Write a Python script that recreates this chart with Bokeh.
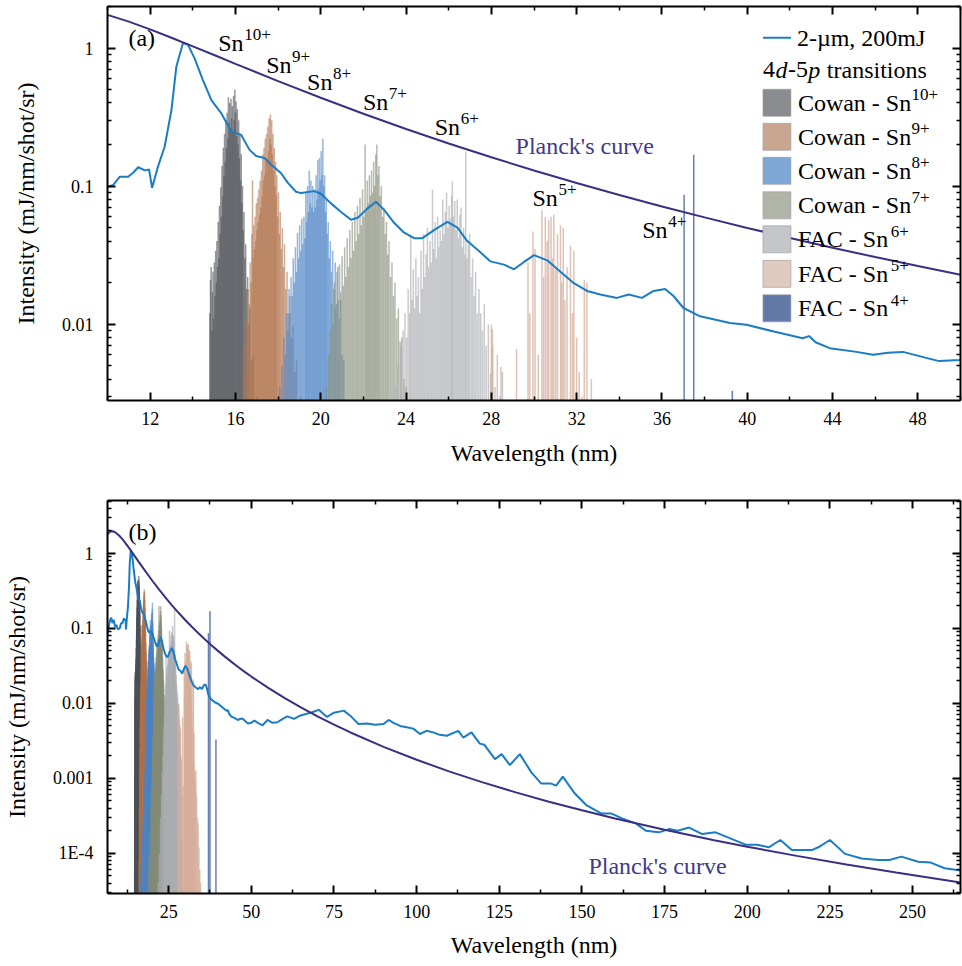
from bokeh.plotting import figure
from bokeh.models import (Range1d, FixedTicker, LinearAxis, LogAxis, Label,
                          BoxAnnotation, ColumnDataSource)
from bokeh.layouts import column
from bokeh.embed import file_html
from bokeh.resources import INLINE

# ---------------- data ----------------
# measured spectrum: (wavelength nm, intensity mJ/nm/shot/sr)
SPECTRUM = [
    (6.5, 0.082), (6.8, 0.10), (7.2, 0.125), (7.6, 0.14), (8.0, 0.118), (8.4, 0.13),
    (8.8, 0.105), (9.2, 0.112), (9.6, 0.098), (10.03, 0.099), (10.27, 0.102),
    (10.58, 0.117), (10.97, 0.117), (11.2, 0.125), (11.44, 0.137), (11.75, 0.130),
    (11.95, 0.132), (12.09, 0.097), (12.37, 0.139), (12.68, 0.193), (13.0, 0.357),
    (13.23, 0.736), (13.54, 1.087), (13.77, 1.06), (14.08, 0.846), (14.47, 0.589),
    (14.87, 0.42), (15.33, 0.338), (15.80, 0.249), (16.27, 0.235), (16.66, 0.183),
    (16.97, 0.165), (17.36, 0.160), (17.68, 0.143), (18.14, 0.124), (18.45, 0.106),
    (18.84, 0.091), (19.08, 0.089), (19.70, 0.092), (20.01, 0.088), (20.48, 0.075),
    (20.95, 0.065), (21.42, 0.057), (21.73, 0.059), (22.2, 0.069), (22.59, 0.077),
    (22.98, 0.067), (23.45, 0.054), (23.91, 0.046), (24.38, 0.042), (24.77, 0.042),
    (25.31, 0.048), (25.94, 0.055), (26.41, 0.050), (26.87, 0.040), (27.5, 0.033),
    (27.96, 0.0285), (28.59, 0.027), (29.06, 0.025), (29.5, 0.028), (30.0, 0.0316),
    (30.62, 0.029), (31.24, 0.024), (31.87, 0.0198), (32.49, 0.0174), (33.11, 0.0164),
    (33.89, 0.0155), (34.44, 0.0164), (35.06, 0.0155), (35.61, 0.0174), (36.15, 0.018),
    (36.54, 0.016), (37.01, 0.0131), (37.79, 0.0114), (39.19, 0.0102), (39.97, 0.0099),
    (41.3, 0.0088), (42.6, 0.0079), (42.9, 0.0082), (43.2, 0.0074), (43.87, 0.0067),
    (45.12, 0.0063), (45.9, 0.006), (46.6, 0.0062), (47.3, 0.0063), (48.39, 0.0057),
    (49.0, 0.0054), (49.95, 0.0055), (50.9, 0.0059), (52.0, 0.0055), (53.4, 0.0051),
    (54.9, 0.006), (56.4, 0.0055), (57.9, 0.0056), (59.5, 0.0062), (60.9, 0.0067),
    (62.9, 0.0062), (64.9, 0.0069), (66.5, 0.0072), (68.4, 0.0076), (70.4, 0.0082),
    (72.9, 0.0066), (75.0, 0.0075), (78.0, 0.0080), (80.0, 0.0068), (82.4, 0.0053),
    (85.0, 0.0054), (87.5, 0.0052), (90.0, 0.0053), (91.5, 0.006), (93.0, 0.0055),
    (95.0, 0.005), (97.0, 0.0048), (99.0, 0.0046), (101.0, 0.0039), (103.0, 0.0043),
    (105.0, 0.0041), (107.0, 0.0038), (109.1, 0.0037), (112.6, 0.0043), (114.1, 0.0035),
    (116.6, 0.0041), (119.1, 0.0029), (120.5, 0.0028), (123.7, 0.0018), (125.7, 0.0021),
    (128.2, 0.0015), (131.2, 0.0021), (134.7, 0.0012), (137.7, 0.00085), (140.7, 0.00085),
    (142.2, 0.0008), (144.2, 0.00105), (147.8, 0.00063), (151.3, 0.00044), (155.8, 0.00034),
    (158.8, 0.00034), (162.3, 0.00029), (166.3, 0.00025), (169.3, 0.0002), (173.3, 0.00019),
    (176.3, 0.00021), (179.0, 0.0002), (182.4, 0.00022), (186.4, 0.00018), (190.4, 0.00019),
    (194.5, 0.00016), (199.5, 0.00013), (203.0, 0.00013), (206.5, 0.00012), (210.0, 0.00015),
    (213.5, 0.00011), (219.5, 0.00011), (221.5, 0.00012), (225.0, 0.00015), (229.6, 0.000098),
    (234.6, 0.000085), (239.6, 0.000081), (243.0, 0.000081), (246.6, 0.00009),
    (251.7, 0.000077), (255.5, 0.000075), (259.7, 0.000063), (264.5, 0.000059),
]

# Planck's curve
PLANCK = [
    (6.5, 1.80), (7.0, 1.915), (7.5, 1.968), (8.0, 1.977), (8.5, 1.950), (9.0, 1.896),
    (10, 1.74), (11, 1.553), (12, 1.365), (13, 1.188), (14, 1.029), (15, 0.890),
    (16, 0.769), (18, 0.5765), (20, 0.4364), (22, 0.3343), (24, 0.2593), (26, 0.2035),
    (28, 0.1617), (30, 0.1298), (32, 0.1053), (34, 0.0862), (36, 0.07125), (38, 0.05935),
    (40, 0.0498), (42, 0.04208), (44, 0.0358), (46, 0.03063), (48, 0.02636), (50, 0.0228),
    (55, 0.01621), (60, 0.01183), (65, 0.008827), (70, 0.006718), (75, 0.005203),
    (80, 0.00409), (90, 0.002629), (100, 0.001766), (110, 0.001229), (120, 0.000881),
    (130, 0.000648), (140, 0.0004874), (150, 0.0003735), (160, 0.0002909),
    (175, 0.0002055), (190, 0.0001492), (200, 0.0001222), (215, 0.00009214),
    (230, 0.00007079), (245, 0.00005527), (264.5, 0.0000408),
]

# 4d-5p transition lines (wavelength nm, intensity)
COWAN_SN10 = [
    (14.71, 0.00006), (14.76, 0.0011), (14.80, 0.012), (14.83, 0.021), (14.86, 0.026),
    (14.89, 0.009), (14.92, 0.017), (14.95, 0.024), (14.98, 0.011), (15.01, 0.028),
    (15.04, 0.016), (15.07, 0.034), (15.10, 0.020), (15.13, 0.040), (15.16, 0.026),
    (15.19, 0.055), (15.22, 0.030), (15.25, 0.072), (15.28, 0.045), (15.31, 0.098),
    (15.34, 0.060), (15.37, 0.14), (15.40, 0.085), (15.43, 0.19), (15.46, 0.12),
    (15.49, 0.24), (15.52, 0.15), (15.55, 0.30), (15.58, 0.19), (15.61, 0.34),
    (15.64, 0.22), (15.67, 0.44), (15.70, 0.29), (15.73, 0.40), (15.76, 0.26),
    (15.79, 0.43), (15.82, 0.31), (15.85, 0.38), (15.88, 0.25), (15.91, 0.45),
    (15.94, 0.30), (15.97, 0.50), (16.00, 0.34), (16.03, 0.41), (16.06, 0.23),
    (16.09, 0.36), (16.12, 0.20), (16.15, 0.30), (16.18, 0.16), (16.21, 0.24),
    (16.24, 0.11), (16.27, 0.17), (16.30, 0.075), (16.33, 0.10), (16.36, 0.048),
    (16.40, 0.065), (16.44, 0.030), (16.48, 0.038), (16.52, 0.018), (16.57, 0.022),
    (16.62, 0.010), (16.68, 0.013), (16.75, 0.0055), (16.83, 0.0060), (16.92, 0.0028),
    (17.02, 0.0030), (17.14, 0.0011), (17.27, 0.0005), (17.40, 0.00012),
]
COWAN_SN9 = [
    (16.08, 0.00008), (16.16, 0.0004), (16.24, 0.0012), (16.31, 0.0025), (16.38, 0.0045),
    (16.44, 0.007), (16.50, 0.011), (16.55, 0.009), (16.60, 0.018), (16.65, 0.014),
    (16.69, 0.028), (16.73, 0.020), (16.77, 0.045), (16.80, 0.11), (16.83, 0.030),
    (16.86, 0.052), (16.89, 0.035), (16.92, 0.060), (16.95, 0.040), (16.98, 0.075),
    (17.01, 0.048), (17.04, 0.082), (17.07, 0.055), (17.10, 0.095), (17.13, 0.062),
    (17.16, 0.11), (17.19, 0.07), (17.22, 0.13), (17.25, 0.085), (17.28, 0.17),
    (17.31, 0.11), (17.34, 0.19), (17.37, 0.12), (17.40, 0.22), (17.43, 0.15),
    (17.46, 0.24), (17.49, 0.16), (17.52, 0.27), (17.55, 0.18), (17.58, 0.31),
    (17.61, 0.22), (17.64, 0.33), (17.67, 0.20), (17.70, 0.30), (17.73, 0.17),
    (17.76, 0.24), (17.79, 0.13), (17.82, 0.19), (17.85, 0.10), (17.88, 0.15),
    (17.91, 0.085), (17.94, 0.12), (17.98, 0.06), (18.02, 0.09), (18.06, 0.045),
    (18.10, 0.065), (18.15, 0.035), (18.20, 0.05), (18.25, 0.026), (18.30, 0.038),
    (18.36, 0.018), (18.42, 0.024), (18.48, 0.012), (18.55, 0.016), (18.62, 0.008),
    (18.70, 0.0096), (18.78, 0.0045), (18.86, 0.0055), (18.95, 0.0025), (19.05, 0.0030),
    (19.15, 0.0012), (19.27, 0.0004), (19.38, 0.0001),
]
COWAN_SN8 = [
    (16.52, 0.00004), (16.66, 0.00007), (16.80, 0.00012), (16.95, 0.0002), (17.10, 0.00015),
    (17.25, 0.0003), (17.40, 0.0005), (17.55, 0.0004), (17.70, 0.0008), (17.85, 0.0012),
    (17.97, 0.002), (18.08, 0.0035), (18.18, 0.005), (18.27, 0.008), (18.34, 0.006),
    (18.40, 0.012), (18.46, 0.009), (18.51, 0.018), (18.56, 0.012), (18.61, 0.022),
    (18.66, 0.016), (18.71, 0.030), (18.76, 0.020), (18.81, 0.036), (18.86, 0.024),
    (18.91, 0.046), (18.96, 0.030), (19.01, 0.052), (19.06, 0.034), (19.11, 0.058),
    (19.16, 0.038), (19.21, 0.060), (19.26, 0.042), (19.30, 0.090), (19.34, 0.055),
    (19.38, 0.10), (19.42, 0.065), (19.46, 0.13), (19.50, 0.075), (19.54, 0.11),
    (19.58, 0.07), (19.62, 0.10), (19.66, 0.065), (19.70, 0.095), (19.74, 0.07),
    (19.78, 0.12), (19.82, 0.08), (19.86, 0.155), (19.90, 0.095), (19.94, 0.16),
    (19.98, 0.11), (20.02, 0.18), (20.06, 0.12), (20.10, 0.22), (20.14, 0.10),
    (20.18, 0.12), (20.22, 0.065), (20.26, 0.08), (20.30, 0.045), (20.35, 0.055),
    (20.40, 0.030), (20.45, 0.040), (20.50, 0.024), (20.56, 0.034), (20.62, 0.018),
    (20.68, 0.028), (20.74, 0.014), (20.80, 0.026), (20.86, 0.011), (20.93, 0.015),
    (21.00, 0.006), (21.08, 0.0055), (21.17, 0.0025), (21.28, 0.0012), (21.40, 0.0004),
]
COWAN_SN7 = [
    (18.82, 0.00006), (19.05, 0.0001), (19.30, 0.0002), (19.55, 0.0004), (19.75, 0.0007),
    (19.95, 0.0012), (20.12, 0.002), (20.25, 0.0035), (20.36, 0.006), (20.45, 0.009),
    (20.52, 0.014), (20.58, 0.010), (20.64, 0.020), (20.70, 0.013), (20.76, 0.024),
    (20.82, 0.015), (20.88, 0.027), (20.94, 0.017), (21.00, 0.031), (21.06, 0.019),
    (21.12, 0.036), (21.18, 0.022), (21.24, 0.042), (21.30, 0.026), (21.36, 0.048),
    (21.42, 0.030), (21.48, 0.055), (21.54, 0.034), (21.60, 0.065), (21.66, 0.040),
    (21.72, 0.072), (21.78, 0.045), (21.84, 0.082), (21.90, 0.052), (21.96, 0.095),
    (22.02, 0.060), (22.08, 0.20), (22.13, 0.07), (22.18, 0.11), (22.23, 0.075),
    (22.28, 0.12), (22.33, 0.085), (22.38, 0.13), (22.43, 0.09), (22.48, 0.15),
    (22.53, 0.10), (22.58, 0.17), (22.63, 0.20), (22.68, 0.12), (22.73, 0.14),
    (22.78, 0.085), (22.84, 0.10), (22.90, 0.06), (22.96, 0.07), (23.02, 0.045),
    (23.08, 0.055), (23.14, 0.032), (23.20, 0.040), (23.27, 0.022), (23.34, 0.028),
    (23.41, 0.016), (23.48, 0.020), (23.56, 0.011), (23.64, 0.013), (23.72, 0.0075),
    (23.80, 0.008), (23.90, 0.004), (24.00, 0.0035), (24.15, 0.0018), (24.35, 0.0009),
    (24.60, 0.0004), (24.90, 0.00015), (25.25, 0.00005),
]
FAC_SN6 = [
    (21.85, 0.00004), (22.20, 0.0001), (22.55, 0.0003), (22.85, 0.0006), (23.10, 0.0012),
    (23.30, 0.002), (23.48, 0.0035), (23.62, 0.005), (23.75, 0.007), (23.86, 0.009),
    (23.95, 0.012), (24.03, 0.008), (24.10, 0.018), (24.17, 0.012), (24.22, 0.043),
    (24.28, 0.015), (24.34, 0.025), (24.40, 0.013), (24.46, 0.030), (24.52, 0.016),
    (24.58, 0.022), (24.64, 0.012), (24.70, 0.034), (24.76, 0.018), (24.82, 0.045),
    (24.88, 0.022), (24.94, 0.032), (25.00, 0.05), (25.06, 0.026), (25.12, 0.040),
    (25.18, 0.028), (25.24, 0.094), (25.30, 0.035), (25.36, 0.055), (25.42, 0.030),
    (25.48, 0.060), (25.54, 0.036), (25.60, 0.048), (25.66, 0.040), (25.72, 0.080),
    (25.78, 0.045), (25.84, 0.065), (25.90, 0.090), (25.96, 0.050), (26.02, 0.072),
    (26.08, 0.058), (26.14, 0.085), (26.17, 0.108), (26.22, 0.060), (26.28, 0.078),
    (26.34, 0.048), (26.40, 0.080), (26.46, 0.042), (26.52, 0.062), (26.58, 0.070),
    (26.64, 0.036), (26.70, 0.050), (26.76, 0.032), (26.80, 0.178), (26.86, 0.030),
    (26.92, 0.038), (26.98, 0.045), (27.05, 0.022), (27.12, 0.030), (27.19, 0.016),
    (27.26, 0.024), (27.34, 0.012), (27.42, 0.018), (27.50, 0.012), (27.58, 0.009),
    (27.67, 0.014), (27.76, 0.007), (27.86, 0.010), (27.96, 0.0044), (28.06, 0.007),
    (28.17, 0.0035), (28.28, 0.006), (28.40, 0.003), (28.52, 0.0045), (28.65, 0.002),
    (28.80, 0.0018), (28.97, 0.0006), (29.15, 0.00015), (29.30, 0.00004),
]
FAC_SN5 = [
    (28.00, 0.0099), (28.05, 0.0092), (28.45, 0.0049), (29.18, 0.0066), (29.45, 0.0008),
    (29.72, 0.028), (29.80, 0.012), (29.95, 0.047), (30.05, 0.035), (30.20, 0.006),
    (30.37, 0.067), (30.45, 0.022), (30.53, 0.060), (30.62, 0.040), (30.69, 0.057),
    (30.80, 0.060), (30.86, 0.030), (30.93, 0.062), (31.02, 0.025), (31.10, 0.045),
    (31.24, 0.052), (31.30, 0.020), (31.37, 0.050), (31.45, 0.015), (31.55, 0.026),
    (31.71, 0.037), (31.80, 0.012), (31.87, 0.034), (32.00, 0.008), (32.12, 0.0045),
    (32.25, 0.003), (32.36, 0.021), (32.48, 0.020), (32.58, 0.0015), (32.69, 0.004),
    (32.85, 0.0012), (33.05, 0.0009), (33.25, 0.0013), (33.45, 0.0006), (33.70, 0.0003),
    (33.90, 0.00025), (34.15, 0.00012), (34.40, 0.00006), (34.65, 0.00004),
]
FAC_SN4 = [(37.04, 0.0865), (37.49, 0.169), (39.30, 0.0033)]

ION_SETS = [
    ("Cowan - Sn", "10+", COWAN_SN10, "#4f5257", 0.6, "#8a8c90"),
    ("Cowan - Sn", "9+", COWAN_SN9, "#b0734d", 0.6, "#c9a691"),
    ("Cowan - Sn", "8+", COWAN_SN8, "#4c84c6", 0.6, "#7fa7d6"),
    ("Cowan - Sn", "7+", COWAN_SN7, "#858c77", 0.6, "#b1b5a9"),
    ("FAC - Sn", "6+", FAC_SN6, "#acaeb2", 0.65, "#c5c6ca"),
    ("FAC - Sn", "5+", FAC_SN5, "#d6ad9b", 0.75, "#e0c9bf"),
    ("FAC - Sn", "4+", FAC_SN4, "#4d67a2", 0.85, "#6379a7"),
]

TOP_XTICKS = [12, 16, 20, 24, 28, 32, 36, 40, 44, 48]
TOP_XMINOR = [10, 14, 18, 22, 26, 30, 34, 38, 42, 46, 50]
BOT_XTICKS = [25, 50, 75, 100, 125, 150, 175, 200, 225, 250]
BOT_XMINOR = [12.5, 37.5, 62.5, 87.5, 112.5, 137.5, 162.5, 187.5, 212.5, 237.5, 262.5]
TOP_YTICKS = [0.01, 0.1, 1]
TOP_YLABELS = {0.01: "0.01", 0.1: "0.1", 1: "1"}
BOT_YTICKS = [0.0001, 0.001, 0.01, 0.1, 1]
BOT_YLABELS = {0.0001: "1E-4", 0.001: "0.001", 0.01: "0.01", 0.1: "0.1", 1: "1"}

FONT = "Liberation Serif"
BLUE = "#1a7cc4"
PLANCK_COLOR = "#3a2f82"
PLANCK_TEXT = "#3f3a8c"


def minor_log(lo, hi):
    out = []
    for e in range(-6, 2):
        for m in range(2, 10):
            v = m * 10.0 ** e
            if lo <= v <= hi:
                out.append(v)
    return out


def style_axis(ax, labels=True, tick_standoff=12, label_standoff=12):
    ax.axis_line_width = 2
    ax.axis_line_color = "black"
    ax.major_tick_in = 8
    ax.major_tick_out = 0
    ax.minor_tick_in = 4
    ax.minor_tick_out = 0
    ax.major_tick_line_width = 2
    ax.minor_tick_line_width = 1.5
    ax.major_tick_line_color = "black"
    ax.minor_tick_line_color = "black"
    ax.major_label_text_font = FONT
    ax.major_label_text_color = "black"
    ax.axis_label_text_font = FONT
    ax.axis_label_text_font_style = "normal"
    ax.axis_label_text_font_size = "24px"
    ax.axis_label_text_color = "black"
    if labels:
        ax.major_label_text_font_size = "18px"
        ax.major_label_standoff = tick_standoff
        ax.axis_label_standoff = label_standoff
    else:
        ax.major_label_text_font_size = "1px"
        ax.major_label_text_alpha = 0.0
        ax.major_label_standoff = 0


def build(xr, yr, xt, xmt, yt, ylab, height, top, bottom, xstand, xlstand):
    p = figure(width=962, height=height, x_range=Range1d(*xr), y_range=Range1d(*yr),
               y_axis_type="log", output_backend="svg", toolbar_location=None,
               min_border_left=106, min_border_right=2, min_border_top=top,
               min_border_bottom=bottom)
    p.xgrid.visible = False
    p.ygrid.visible = False
    p.outline_line_color = None
    p.background_fill_color = "white"
    p.border_fill_color = "white"
    xtick = FixedTicker(ticks=xt, minor_ticks=xmt)
    ytick = FixedTicker(ticks=yt, minor_ticks=minor_log(yr[0], yr[1]))
    p.xaxis.ticker = xtick
    p.yaxis.ticker = ytick
    p.yaxis.major_label_overrides = ylab
    p.xaxis.axis_label = "Wavelength (nm)"
    p.yaxis.axis_label = "Intensity (mJ/nm/shot/sr)"
    for ax in p.xaxis:
        style_axis(ax, True, xstand, xlstand)
    for ax in p.yaxis:
        style_axis(ax, True, 14, 20)
    ta = LinearAxis(ticker=xtick)
    style_axis(ta, False)
    p.add_layout(ta, "above")
    ra = LogAxis(ticker=ytick)
    style_axis(ra, False)
    p.add_layout(ra, "right")

    for name, sup, lines, color, alpha, _ in ION_SETS:
        src = ColumnDataSource(dict(x=[a for a, b in lines], y=[b for a, b in lines]))
        p.segment(x0="x", y0=1e-7, x1="x", y1="y", source=src, line_color=color,
                  line_alpha=alpha, line_width=1.5)
    p.line([a for a, b in SPECTRUM], [b for a, b in SPECTRUM], line_color=BLUE, line_width=2)
    p.line([a for a, b in PLANCK], [b for a, b in PLANCK], line_color=PLANCK_COLOR,
           line_width=2)
    return p


# reference-pixel -> data helpers for placing texts
def tx(px):
    return 10 + (px - 106) / 21.375


def ty(py):
    return 10 ** ((48.3 - py) / 138.0)


def bx(px):
    return 6.5 + (px - 106) / 3.307


def by(py):
    return 10 ** ((553.3 - py) / 75.0)


def text(p, x, y, s, size=24, color="black", style="normal", align="left"):
    p.add_layout(Label(x=x, y=y, text=s, text_font=FONT, text_font_size=f"{size}px",
                       text_color=color, text_font_style=style, text_align=align,
                       text_baseline="middle"))


def sn(p, fx, fy, px, py, sup, base="Sn", adv=26):
    text(p, fx(px), fy(py), base)
    text(p, fx(px + adv), fy(py - 8), sup, size=17)


# ---------------- top panel ----------------
p1 = build((10, 50), (0.0028, 2.0), TOP_XTICKS, TOP_XMINOR, TOP_YTICKS, TOP_YLABELS,
           488, 6, 88, 11, 12)
text(p1, tx(127), ty(38), "(a)")
for (px, py, sup) in [(217, 43, "10+"), (265, 65, "9+"), (306, 82, "8+"),
                      (362, 102, "7+"), (434, 127, "6+"), (532, 198, "5+"),
                      (642, 230, "4+")]:
    sn(p1, tx, ty, px, py, sup)
text(p1, tx(515), ty(146), "Planck's curve", color=PLANCK_TEXT)

# legend (drawn by hand so that superscripts / italics are kept)
p1.segment(x0=[tx(763)], y0=[ty(38)], x1=[tx(791)], y1=[ty(38)], line_color=BLUE,
           line_width=2)
text(p1, tx(797), ty(38), "2-\u00b5m, 200mJ")
text(p1, tx(763), ty(70), "4")
text(p1, tx(775.5), ty(70), "d", style="italic")
text(p1, tx(788), ty(70), "-5")
text(p1, tx(808.5), ty(70), "p", style="italic")
text(p1, tx(827), ty(70), "transitions")
rows = [103, 137, 171, 205.5, 239.5, 274, 308.5]
for (name, sup, lines, color, alpha, lcol), ry in zip(ION_SETS, rows):
    p1.add_layout(BoxAnnotation(left=tx(763), right=tx(791), bottom=ty(ry + 13.5),
                                top=ty(ry - 13.5), fill_color=lcol, fill_alpha=1.0,
                                line_color="#9a9a9a", line_alpha=0.6, line_width=1))
    adv = 114 if name.startswith("Cowan") else 93
    text(p1, tx(798), ty(ry), name)
    text(p1, tx(798 + adv), ty(ry - 8), sup, size=17)

# ---------------- bottom panel ----------------
p2 = build((6.5, 264.5), (2.9e-5, 5.1), BOT_XTICKS, BOT_XMINOR, BOT_YTICKS, BOT_YLABELS,
           476, 12, 71, 11, 11)
text(p2, bx(127), by(532), "(b)")
text(p2, bx(587), by(866), "Planck's curve", color=PLANCK_TEXT)

layout = column(p1, p2)
open("out.html", "w").write(file_html(layout, INLINE, title="Sn spectra"))
